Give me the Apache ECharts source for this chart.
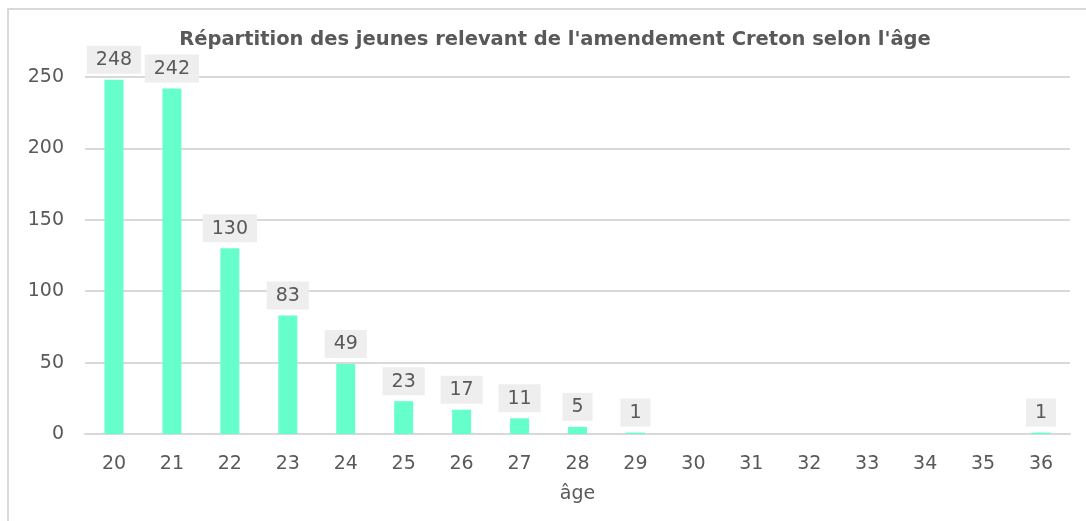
<!DOCTYPE html>
<html>
<head>
<meta charset="utf-8">
<script src="https://cdn.jsdelivr.net/npm/echarts@6/dist/echarts.min.js"></script>
<style>
  html, body { margin: 0; padding: 0; background: #fff; }
  #chart { width: 1086px; height: 521px; }
</style>
</head>
<body>
<div id="chart"></div>
<script>
// données : âge -> nombre de jeunes
const ages = ['20', '21', '22', '23', '24', '25', '26', '27', '28', '29', '30', '31', '32', '33', '34', '35', '36'];
const counts = [248, 242, 130, 83, 49, 23, 17, 11, 5, 1, 0, 0, 0, 0, 0, 0, 1];
const yTicks = [0, 50, 100, 150, 200, 250];

const textColor = '#595959';
const fontFamily = 'DejaVu Sans';

const chart = echarts.init(document.getElementById('chart'));

const option = {
  backgroundColor: '#fff',
  textStyle: { fontFamily: fontFamily },
  title: {
    text: "Répartition des jeunes relevant de l'amendement Creton selon l'âge",
    left: 550,
    top: 25,
    textAlign: 'center',
    textStyle: {
      fontFamily: fontFamily,
      fontSize: 19.5,
      fontWeight: 'bold',
      color: textColor
    }
  },
  graphic: [{
    type: 'rect',
    shape: { x: 8, y: 9, width: 1200, height: 600 },
    style: { fill: 'none', stroke: '#d9d9d9', lineWidth: 2 },
    silent: true
  }],
  grid: {
    left: 85,
    right: 16,
    top: 77,
    bottom: 87
  },
  xAxis: {
    type: 'category',
    data: ages,
    name: 'âge',
    nameLocation: 'middle',
    nameGap: 51,
    nameTextStyle: { fontSize: 19, color: textColor, fontFamily: fontFamily },
    axisLine: { lineStyle: { color: '#d9d9d9', width: 2 } },
    axisTick: { show: false },
    axisLabel: { fontSize: 19, color: textColor, margin: 21 }
  },
  yAxis: {
    type: 'value',
    min: yTicks[0],
    max: yTicks[yTicks.length - 1],
    interval: 50,
    axisLine: { show: false },
    axisTick: { show: false },
    axisLabel: { fontSize: 19, color: textColor, margin: 21 },
    splitLine: { lineStyle: { color: '#d9d9d9', width: 2 } }
  },
  series: [{
    type: 'bar',
    barWidth: 19,
    itemStyle: { color: '#66ffcc' },
    label: {
      show: true,
      position: 'top',
      distance: 6,
      fontSize: 19,
      color: textColor,
      backgroundColor: '#eeeeee',
      padding: [5, 9, 4, 9]
    },
    // pas d'étiquette pour les valeurs nulles
    data: counts.map(v => v === 0 ? { value: v, label: { show: false } } : v)
  }]
};

chart.setOption(option);
</script>
</body>
</html>
